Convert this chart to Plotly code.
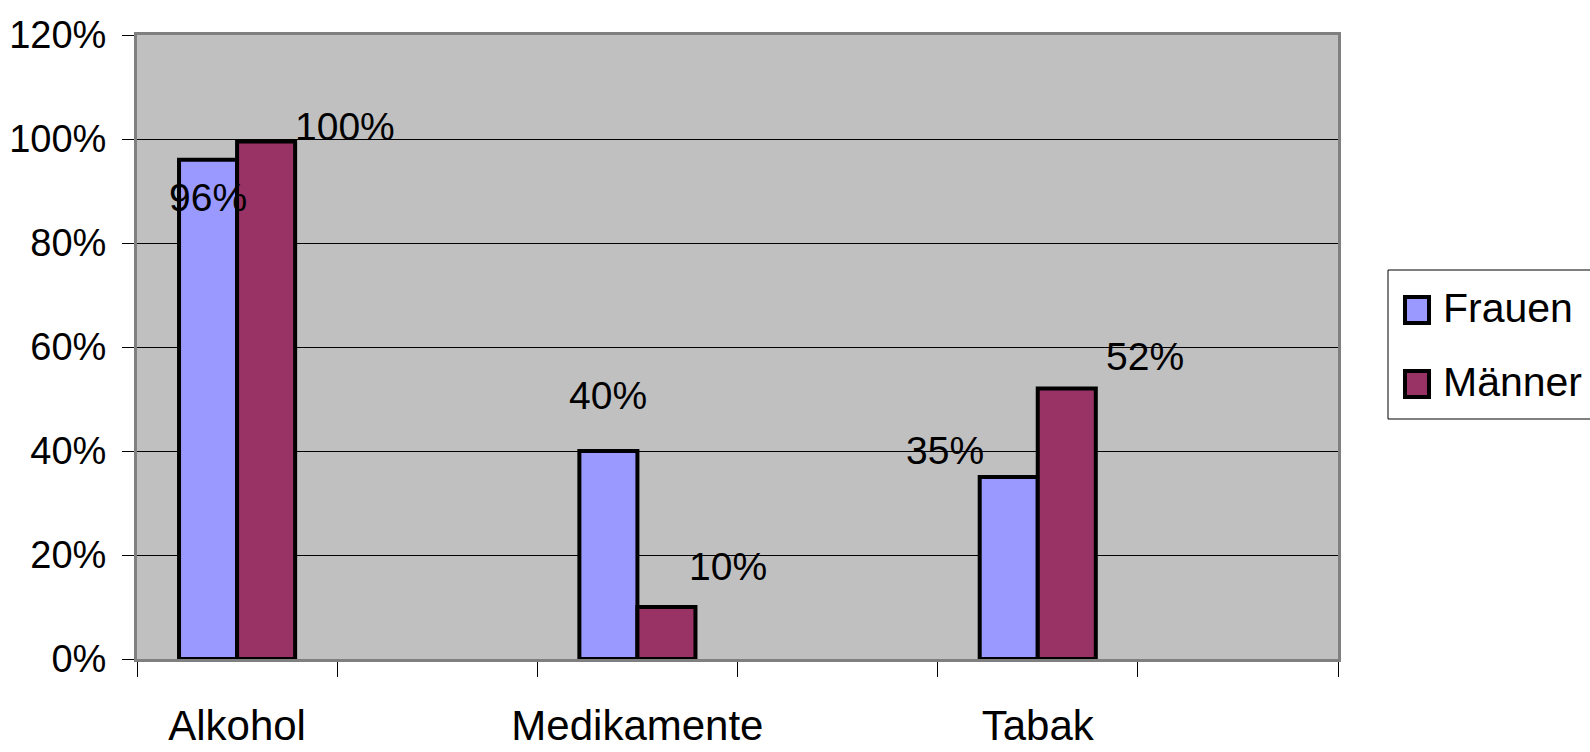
import plotly.graph_objects as go

# ---- data ----
categories = ["Alkohol", "Medikamente", "Tabak"]
series_names = ["Frauen", "Männer"]
frauen = [0.96, 0.40, 0.35]
maenner = [0.995, 0.10, 0.52]
frauen_labels = ["96%", "40%", "35%"]
maenner_labels = ["100%", "10%", "52%"]
y_ticks = [0, 0.2, 0.4, 0.6, 0.8, 1.0, 1.2]

# ---- style / layout ----
W, H = 1590, 752
ML, MR, MT, MB = 137, 252, 35, 93
FONT = "Liberation Sans, Arial, sans-serif"
FS = 39
C_F = "#9999FF"
C_M = "#993366"
SLOT = 2  # each category occupies 2 slots (second slot empty)
BAR_W = 0.29

xpos = [i * SLOT for i in range(len(categories))]

fig = go.Figure()
fig.add_trace(go.Bar(name=series_names[0], x=xpos, y=frauen, marker=dict(color=C_F, line=dict(color="black", width=4)),
                     showlegend=False, hoverinfo="y"))
fig.add_trace(go.Bar(name=series_names[1], x=xpos, y=maenner, marker=dict(color=C_M, line=dict(color="black", width=4)),
                     showlegend=False, hoverinfo="y"))

# label offsets in pixels (dx, dy) for each bar label
f_off = [(0, -38), (0, 56), (-64, 27)]
m_off = [(79, 15), (62, 41), (78, 32)]
anns = []
for i, xc in enumerate(xpos):
    anns.append(dict(x=xc - BAR_W / 2, y=frauen[i], text=frauen_labels[i], showarrow=False,
                     xanchor="center", yanchor="middle", xshift=f_off[i][0], yshift=f_off[i][1],
                     font=dict(family=FONT, size=FS, color="black")))
    anns.append(dict(x=xc + BAR_W / 2, y=maenner[i], text=maenner_labels[i], showarrow=False,
                     xanchor="center", yanchor="middle", xshift=m_off[i][0], yshift=m_off[i][1],
                     font=dict(family=FONT, size=FS, color="black")))

# manual legend (pixel -> paper helpers)
PW = W - ML - MR
PH = H - MT - MB
def px(x):
    return (x - ML) / PW
def py(y):
    return (H - MB - y) / PH

shapes = [dict(type="rect", xref="paper", yref="paper", x0=px(1388), x1=px(1640), y0=py(419), y1=py(270),
               line=dict(color="black", width=1), fillcolor="white", layer="above")]
leg_items = [(series_names[0], C_F, 310), (series_names[1], C_M, 384)]
for name, col, yc in leg_items:
    shapes.append(dict(type="rect", xref="paper", yref="paper", x0=px(1405), x1=px(1429),
                       y0=py(yc + 13), y1=py(yc - 13), fillcolor=col, line=dict(color="black", width=4), layer="above"))
    anns.append(dict(xref="paper", yref="paper", x=px(1441), y=py(yc - 2), text=name, showarrow=False,
                     xanchor="left", yanchor="middle", font=dict(family=FONT, size=41, color="black")))

fig.update_layout(
    width=W, height=H,
    margin=dict(l=ML, r=MR, t=MT, b=MB, autoexpand=False),
    paper_bgcolor="white", plot_bgcolor="#C0C0C0",
    barmode="group", bargap=0.71, bargroupgap=0,
    font=dict(family=FONT, size=FS, color="black"),
    annotations=anns, shapes=shapes,
    showlegend=False,
)
fig.update_xaxes(
    automargin=False,
    range=[-0.5, len(categories) * SLOT - 0.5],
    tickmode="array", tickvals=xpos, ticktext=categories, ticks="",
    showgrid=False, zeroline=False,
    showline=True, linecolor="#808080", linewidth=3, mirror=True,
    minor=dict(tick0=-0.5, dtick=1, ticks="outside", ticklen=15, tickcolor="black", tickwidth=1, showgrid=False),
    ticklabelstandoff=28,
    tickfont=dict(family=FONT, size=42, color="black"),
)
fig.update_yaxes(
    automargin=False,
    range=[0, 1.2], tickmode="array", tickvals=y_ticks, tickformat=".0%",
    showgrid=True, gridcolor="black", gridwidth=1, zeroline=False,
    showline=True, linecolor="#808080", linewidth=3, mirror=True,
    ticks="outside", ticklen=12, tickcolor="black", tickwidth=1,
    ticklabelstandoff=8,
    tickfont=dict(family=FONT, size=38, color="black"),
)

fig.write_html("out.html")
